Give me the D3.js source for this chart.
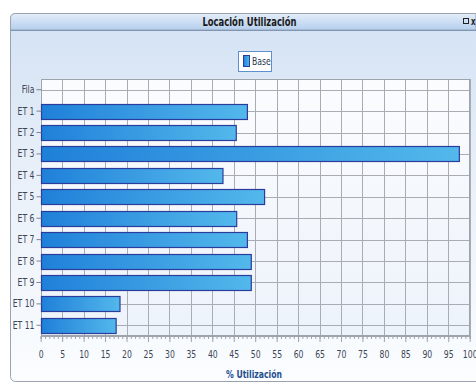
<!DOCTYPE html>
<html>
<head>
<meta charset="utf-8">
<script src="https://cdn.jsdelivr.net/npm/d3@7"></script>
<style>
  html, body { margin: 0; padding: 0; background: #ffffff; }
  svg { display: block; }
  text { font-family: "DejaVu Sans", sans-serif; font-stretch: condensed; }
</style>
</head>
<body>
<svg id="chart" width="476" height="384"></svg>
<script>
// Utilisation per location
const categories = ["Fila", "ET 1", "ET 2", "ET 3", "ET 4", "ET 5", "ET 6", "ET 7", "ET 8", "ET 9", "ET 10", "ET 11"];
const baseValues = [null, 48, 45.4, 97.4, 42.3, 52, 45.5, 48, 48.9, 48.9, 18.3, 17.4];
const xTicks = d3.range(0, 101, 5);
const seriesName = "Base";
const chartTitle = "Locación Utilización";
const xTitle = "% Utilización";

// narrow lettering: horizontal squeeze applied to every label
const SQ = 0.78;

const svg = d3.select("#chart");
const defs = svg.append("defs");

function linGrad(id, x2, y2, stops) {
  const g = defs.append("linearGradient").attr("id", id)
    .attr("x1", 0).attr("y1", 0).attr("x2", x2).attr("y2", y2);
  stops.forEach(([o, c]) => g.append("stop").attr("offset", o).attr("stop-color", c));
}
linGrad("titleGrad", 0, 1, [[0, "#e3edf9"], [1, "#b5cfee"]]);
linGrad("bodyGrad", 0, 1, [[0, "#d3e2f4"], [0.45, "#e9f0f9"], [1, "#fbfdff"]]);
linGrad("plotGrad", 0, 1, [[0, "#fbfcfe"], [1, "#edf3fb"]]);
linGrad("barGrad", 1, 0, [[0, "#1f80d9"], [1, "#53b8eb"]]);
linGrad("swatchGrad", 1, 0, [[0, "#1f80d9"], [1, "#53b8eb"]]);

function label(px, py, str, size, weight, fill, anchor) {
  return svg.append("text")
    .attr("transform", `scale(${SQ},1)`)
    .attr("x", px / SQ).attr("y", py)
    .attr("text-anchor", anchor || "start")
    .attr("font-size", size).attr("font-weight", weight || "normal")
    .attr("fill", fill).text(str);
}

// Window panel
const panel = { x: 10.5, y: 13.5, w: 480, h: 368 };
svg.append("rect")
  .attr("x", panel.x).attr("y", panel.y).attr("width", panel.w).attr("height", panel.h)
  .attr("rx", 5).attr("fill", "url(#bodyGrad)").attr("stroke", "#9aa3ad");
svg.append("path")
  .attr("d", `M${panel.x},30 V${panel.y + 5} Q${panel.x},${panel.y} ${panel.x + 5},${panel.y} H476 V30 Z`)
  .attr("fill", "url(#titleGrad)").attr("stroke", "#9aa3ad");
svg.append("line").attr("x1", panel.x).attr("x2", 476).attr("y1", 30.5).attr("y2", 30.5)
  .attr("stroke", "#7f97b5");
label(249.5, 26, chartTitle, 12, "bold", "#1a1a1a", "middle");
svg.append("rect").attr("x", 463.5).attr("y", 18.5).attr("width", 5).attr("height", 5)
  .attr("fill", "none").attr("stroke", "#222");
label(471, 25, "x", 10, "bold", "#222");

// Legend
const legend = svg.append("g");
legend.append("rect").attr("x", 238.5).attr("y", 51.5).attr("width", 33).attr("height", 20)
  .attr("fill", "#ffffff").attr("stroke", "#5e8fcf");
legend.append("rect").attr("x", 243.5).attr("y", 55.5).attr("width", 6).attr("height", 11)
  .attr("fill", "url(#swatchGrad)").attr("stroke", "#2a3f9e");
label(252, 65.5, seriesName, 11, "normal", "#2a3a55");

// Plot area
const plot = { left: 40.7, right: 469.7, top: 79, bottom: 336 };
const x = d3.scaleLinear().domain([0, 100]).range([plot.left, plot.right]);
const y = d3.scaleBand().domain(categories).range([plot.top, plot.bottom]).paddingInner(0.3).paddingOuter(0.15);

svg.append("rect").attr("x", plot.left).attr("y", plot.top)
  .attr("width", plot.right - plot.left).attr("height", plot.bottom - plot.top)
  .attr("fill", "url(#plotGrad)");

// Grid
svg.append("g").selectAll("line").data(xTicks).join("line")
  .attr("x1", d => Math.round(x(d)) + 0.5).attr("x2", d => Math.round(x(d)) + 0.5)
  .attr("y1", plot.top).attr("y2", plot.bottom)
  .attr("stroke", "#a9adb3").attr("stroke-width", 1);
svg.append("g").selectAll("line").data(categories).join("line")
  .attr("x1", plot.left).attr("x2", plot.right)
  .attr("y1", d => Math.round(y(d) + y.bandwidth() / 2) + 0.5)
  .attr("y2", d => Math.round(y(d) + y.bandwidth() / 2) + 0.5)
  .attr("stroke", "#a9adb3").attr("stroke-width", 1);

svg.append("rect").attr("x", Math.round(plot.left) + 0.5).attr("y", plot.top + 0.5)
  .attr("width", plot.right - plot.left - 1).attr("height", plot.bottom - plot.top - 1)
  .attr("fill", "none").attr("stroke", "#9ea4ab");

// Bars
svg.append("g").selectAll("rect")
  .data(categories.map((c, i) => ({ c, v: baseValues[i] })).filter(d => d.v != null))
  .join("rect")
  .attr("x", Math.round(x(0)) + 0.5)
  .attr("y", d => Math.round(y(d.c)) + 0.5)
  .attr("width", d => x(d.v) - x(0))
  .attr("height", Math.round(y.bandwidth()))
  .attr("fill", "url(#barGrad)")
  .attr("stroke", "#2b3c9c").attr("stroke-width", 1.2);

// Y axis
const yAxis = d3.axisLeft(y).tickSize(5).tickPadding(2);
const gy = svg.append("g").attr("transform", `translate(${Math.round(plot.left) + 0.5},0)`).call(yAxis);
gy.select(".domain").remove();
gy.selectAll(".tick line").attr("stroke", "#7c8590");
gy.selectAll(".tick text")
  .attr("transform", `scale(${SQ},1)`).attr("x", -7 / SQ)
  .attr("font-size", 11).attr("fill", "#3d4656")
  .attr("font-family", "DejaVu Sans, sans-serif");

// X axis: minor ticks every unit, labels every five
const gxMinor = svg.append("g").attr("transform", `translate(0,${plot.bottom})`)
  .call(d3.axisBottom(x).tickValues(d3.range(0, 101, 1)).tickSize(3).tickFormat(""));
gxMinor.select(".domain").attr("stroke", "#9ea4ab");
gxMinor.selectAll(".tick line").attr("stroke", "#9ea4ab");
const gx = svg.append("g").attr("transform", `translate(0,${plot.bottom})`)
  .call(d3.axisBottom(x).tickValues(xTicks).tickSize(6).tickPadding(8).tickFormat(d3.format("d")));
gx.select(".domain").remove();
gx.selectAll(".tick line").attr("stroke", "#9ea4ab");
gx.selectAll(".tick text")
  .attr("transform", `scale(${SQ},1)`)
  .attr("font-size", 11).attr("fill", "#3d4656")
  .attr("font-family", "DejaVu Sans, sans-serif");

label(254, 378, xTitle, 11, "bold", "#1f4f8f", "middle");
</script>
</body>
</html>
